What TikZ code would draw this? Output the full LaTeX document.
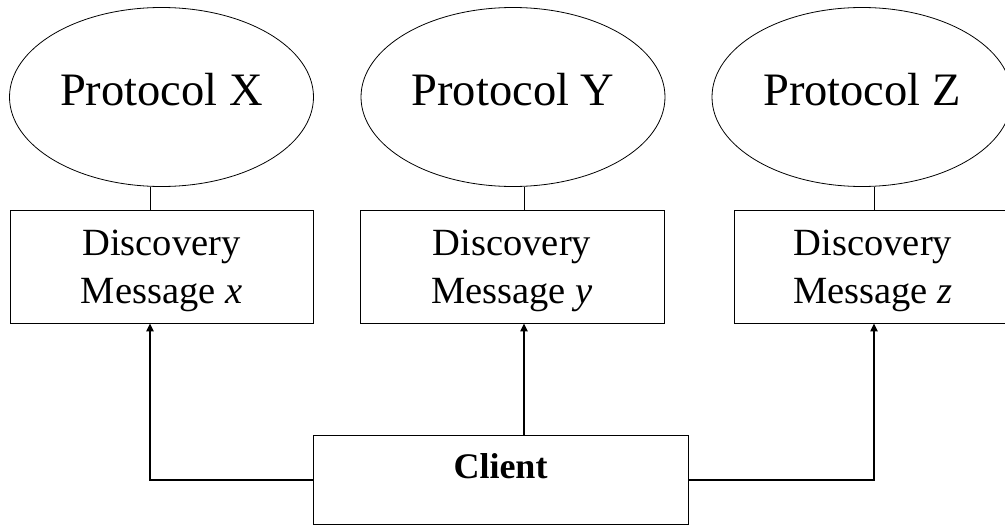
\documentclass[tikz,border=0pt]{standalone}
\usepackage{fontspec}
\setmainfont{Liberation Serif}
\usetikzlibrary{shapes.geometric,arrows.meta}

\tikzset{
  proto/.style={draw, ellipse, line width=0.8pt, inner sep=0pt,
    minimum width=304pt, minimum height=179pt,
    font=\fontsize{46.5}{54}\selectfont, text depth=15pt},
  msgbox/.style={draw, rectangle, line width=0.8pt, inner sep=0pt,
    minimum height=113pt, align=center,
    font=\fontsize{38.5}{48}\selectfont},
  clientbox/.style={draw, rectangle, line width=0.8pt, inner sep=0pt,
    minimum width=375pt, minimum height=89pt,
    font=\fontsize{36}{40}\selectfont\bfseries, text depth=27pt},
  link/.style={line width=0.8pt},
  flow/.style={line width=2pt, -{Triangle[length=8pt,width=7pt]}}
}
% taller first line, so that the two-line labels sit a little lower
\newcommand{\firstline}{\rule{0pt}{34pt}}

\begin{document}
\begin{tikzpicture}[x=1pt, y=-1pt]
  \useasboundingbox (0,0) rectangle (1005,525);
  \clip (0,0) rectangle (1005,525);

  % protocol ellipses
  \node[proto] (ex) at (161.5,97) {Protocol X};
  \node[proto] (ey) at (513,97)   {Protocol Y};
  \node[proto, minimum width=300pt] (ez) at (862,97) {Protocol Z};

  % discovery message boxes
  \node[msgbox, minimum width=303pt] (bx) at (161.5,266.5) {\firstline Discovery\\Message \textit{x}};
  \node[msgbox, minimum width=304pt] (by) at (512,266.5)   {\firstline Discovery\\Message \textit{y}};
  \node[msgbox, minimum width=278pt] (bz) at (873,266.5)   {\firstline Discovery\\Message \textit{z}};

  % client
  \node[clientbox] (client) at (500.5,479.5) {Client};

  % vertical tracks of the connectors
  \coordinate (lx) at (150,0);
  \coordinate (ly) at (524,0);
  \coordinate (lz) at (874,0);

  % protocol to message links
  \draw[link] (ex.south -| lx) -- (bx.north -| lx);
  \draw[link] (ey.south -| ly) -- (by.north -| ly);
  \draw[link] (ez.south -| lz) -- (bz.north -| lz);

  % client to messages
  \draw[flow] (client.west) -| (bx.south -| lx);
  \draw[flow] (client.north -| ly) -- (by.south -| ly);
  \draw[flow] (client.east) -| (bz.south -| lz);
\end{tikzpicture}
\end{document}
